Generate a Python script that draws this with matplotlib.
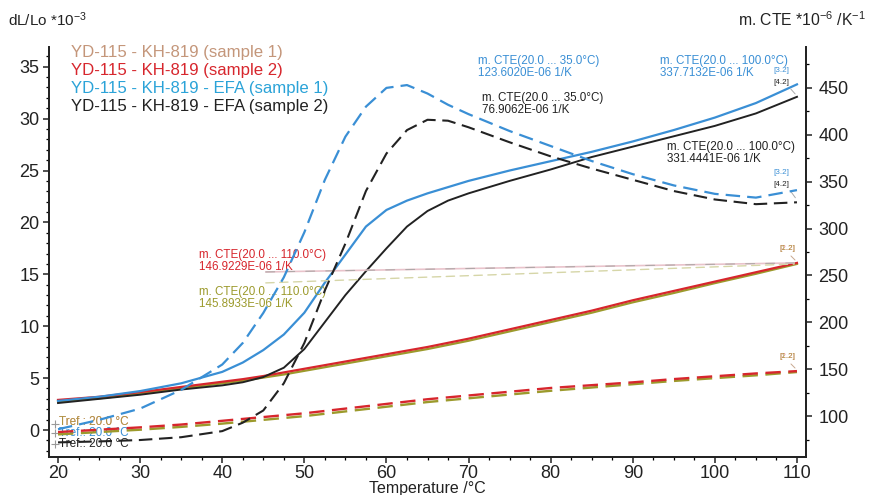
import matplotlib
matplotlib.use("Agg")
import matplotlib.pyplot as plt
from matplotlib.ticker import MultipleLocator

plt.rcParams['font.family'] = ['Liberation Sans', 'DejaVu Sans']
plt.rcParams['mathtext.default'] = 'regular'

# ---- data ----
temp = [20, 25, 30, 35, 40, 42.5, 45, 47.5, 50, 52.5, 55, 57.5, 60, 62.5, 65,
        67.5, 70, 75, 80, 85, 90, 95, 100, 105, 110]

# dL/Lo *1e-3 (left axis, solid)
dl_s1 = [2.75, 3.05, 3.5, 4.0, 4.5, 4.75, 5.05, 5.35, 5.7, 6.05, 6.4, 6.75, 7.1, 7.45, 7.8,
         8.2, 8.6, 9.5, 10.4, 11.3, 12.3, 13.2, 14.15, 15.05, 16.0]
dl_s2 = [2.9, 3.2, 3.65, 4.15, 4.65, 4.9, 5.2, 5.55, 5.9, 6.25, 6.6, 6.95, 7.3, 7.65, 8.0,
         8.4, 8.8, 9.7, 10.6, 11.5, 12.5, 13.4, 14.3, 15.2, 16.1]
dl_efa1 = [2.8, 3.2, 3.75, 4.5, 5.6, 6.5, 7.7, 9.2, 11.3, 14.2, 16.9, 19.6, 21.2, 22.1, 22.8,
           23.4, 24.0, 25.0, 25.9, 26.8, 27.8, 28.9, 30.1, 31.5, 33.3]
dl_efa2 = [2.6, 3.0, 3.4, 3.9, 4.3, 4.6, 5.1, 6.0, 7.8, 10.4, 13.0, 15.3, 17.5, 19.6, 21.1,
           22.1, 22.8, 24.0, 25.1, 26.3, 27.3, 28.3, 29.3, 30.5, 32.1]

# m. CTE *1e-6 /K (right axis, dashed)
cte_s1 = [80.5, 83, 85.5, 88.5, 92, 94, 96, 98, 100, 102.5, 105, 107.5, 110, 112.5, 115,
          117, 119, 123, 127, 130.5, 134, 137.5, 140.5, 143.5, 147]
cte_s2 = [83, 85.5, 88, 91, 95, 97, 99, 101, 103, 105.5, 108, 110.5, 113, 115.5, 118,
          120, 122, 126, 130, 133, 136, 139.5, 142.5, 145.5, 148]
cte_efa1 = [86, 96, 108, 128, 155, 178, 210, 248, 296, 352, 398, 430, 450, 453, 444,
            432, 422, 404, 388, 372, 358, 346, 337, 333, 341]
cte_efa2 = [72, 73, 74.5, 77.5, 84, 93, 106, 135, 178, 234, 284, 340, 380, 405, 416,
            415, 408, 392, 377, 364, 352, 340, 331, 326, 328]

names = ["YD-115 - KH-819 (sample 1)", "YD-115 - KH-819 (sample 2)",
         "YD-115 - KH-819 - EFA (sample 1)", "YD-115 - KH-819 - EFA (sample 2)"]
# (range line, value line) of the mean CTE notes
notes = {
    "s1": ("m. CTE(20.0 ... 110.0°C)", "145.8933E-06 1/K"),
    "s2": ("m. CTE(20.0 ... 110.0°C)", "146.9229E-06 1/K"),
    "efa1_35": ("m. CTE(20.0 ... 35.0°C)", "123.6020E-06 1/K"),
    "efa2_35": ("m. CTE(20.0 ... 35.0°C)", "76.9062E-06 1/K"),
    "efa1_100": ("m. CTE(20.0 ... 100.0°C)", "337.7132E-06 1/K"),
    "efa2_100": ("m. CTE(20.0 ... 100.0°C)", "331.4441E-06 1/K"),
}

olive = "#9c9a2c"
red = "#d7262d"
blue = "#3a8fd5"
black = "#222222"
tan = "#c4967a"

fig = plt.figure(figsize=(8.7, 4.95), dpi=100)
ax = fig.add_axes([49 / 870, 1 - 457 / 495, 757 / 870, 410 / 495])
ax2 = ax.twinx()

dash = (6.5, 3.2)
ax.plot(temp, dl_s1, color=olive, lw=1.6)
ax.plot(temp, dl_s2, color=red, lw=1.6)
ax.plot(temp, dl_efa1, color=blue, lw=1.6)
ax.plot(temp, dl_efa2, color=black, lw=1.4)
ax2.plot(temp, cte_s1, color=olive, lw=1.7, dashes=dash)
ax2.plot(temp, cte_s2, color=red, lw=1.7, dashes=dash)
ax2.plot(temp, cte_efa1, color=blue, lw=1.6, dashes=dash)
ax2.plot(temp, cte_efa2, color=black, lw=1.5, dashes=dash)

ax.set_xlim(18.9, 111.1)
ax.set_ylim(-2.6, 36.9)
ax2.set_ylim(56.4, 493.6)

ax.set_xticks(range(20, 111, 10))
ax.xaxis.set_minor_locator(MultipleLocator(2.5))
ax.set_yticks(range(0, 36, 5))
ax.yaxis.set_minor_locator(MultipleLocator(1))
ax2.set_yticks(range(100, 451, 50))
ax2.yaxis.set_minor_locator(MultipleLocator(25))

for a in (ax, ax2):
    a.spines['top'].set_visible(False)
    for s in a.spines.values():
        s.set_linewidth(1.3)
        s.set_color("#222222")
    a.tick_params(which='major', length=4, width=1.1, labelsize=13, colors="#222222")
    a.tick_params(which='minor', length=2.5, width=0.9)
ax.tick_params(axis='y', pad=3)
ax.tick_params(axis='x', pad=2)
ax2.tick_params(axis='y', pad=5)

fig.text(8 / 870, 1 - 20 / 495, "dL/Lo *10$^{-3}$", fontsize=11, va='center', color="#222222")
fig.text(866 / 870, 1 - 20 / 495, "m. CTE *10$^{-6}$ /K$^{-1}$", fontsize=11.3, va='center',
         ha='right', color="#222222")
fig.text(427 / 870, 1 - 489 / 495, "Temperature /°C", fontsize=11.5, ha='center', va='center',
         color="#222222")


def axfrac(px, py):
    return ((px - 49) / 757, (457 - py) / 410)


# legend as coloured text
for name, col, py in zip(names, [tan, red, "#2ba3d8", black], [52, 70, 89, 107]):
    ax.text(*axfrac(71, py), name, transform=ax.transAxes, color=col, fontsize=12.1,
            va='center', ha='left')

# mean CTE notes, two lines each
note_kw = dict(transform=ax.transAxes, fontsize=8.4, va='center', ha='left')
for key, col, (px, py) in [("s2", red, (199, 255)), ("s1", olive, (199, 292)),
                           ("efa1_35", blue, (478, 61)), ("efa2_35", black, (482, 98)),
                           ("efa1_100", blue, (660, 61)), ("efa2_100", black, (667, 147))]:
    ax.text(*axfrac(px, py), notes[key][0], color=col, **note_kw)
    ax.text(*axfrac(px, py + 12), notes[key][1], color=col, **note_kw)

# leader lines from the 110 °C notes to the curve ends
ax.annotate("", xy=(temp[-1], dl_s2[-1]), xytext=axfrac(263, 272), textcoords='axes fraction',
            arrowprops=dict(arrowstyle='-', color="#e9c3cb", lw=1.2))
ax.annotate("", xy=(temp[-1], dl_s2[-1]), xytext=axfrac(263, 272), textcoords='axes fraction',
            arrowprops=dict(arrowstyle='-', color="#b0a8a8", lw=0.8, linestyle=(0, (8, 10))))
ax.annotate("", xy=(temp[-1], dl_s1[-1]), xytext=axfrac(263, 283), textcoords='axes fraction',
            arrowprops=dict(arrowstyle='-', color="#d6d6a8", lw=1.0, linestyle=(0, (6, 4))))

# segment labels near the right ends
br_kw = dict(transform=ax.transAxes, fontsize=5.8, ha='center', va='center')
ax.text(*axfrac(781, 71), "[3.2]", color=blue, **br_kw)
ax.text(*axfrac(781, 82), "[4.2]", color=black, **br_kw)
ax.text(*axfrac(781, 173), "[3.2]", color=blue, **br_kw)
ax.text(*axfrac(781, 184), "[4.2]", color=black, **br_kw)
ax.text(*axfrac(787, 249), "[2.2]", color=red, alpha=0.6, **br_kw)
ax.text(*axfrac(787, 249), "[1.2]", color=olive, alpha=0.8, **br_kw)
ax.text(*axfrac(787, 357), "[2.2]", color=red, alpha=0.6, **br_kw)
ax.text(*axfrac(787, 357), "[1.2]", color=olive, alpha=0.8, **br_kw)
for (x0, y0), (x1, y1), col in [((789, 87), (797, 96), "#aaaaaa"),
                                ((789, 189), (797, 200), "#aaaaaa"),
                                ((789, 254), (797, 262), "#c8a890"),
                                ((789, 362), (797, 370), "#c8a890")]:
    ax.annotate("", xy=axfrac(x1, y1), xytext=axfrac(x0, y0), xycoords='axes fraction',
                textcoords='axes fraction', arrowprops=dict(arrowstyle='-', color=col, lw=0.7))

# reference temperature labels
tref_kw = dict(transform=ax.transAxes, fontsize=8.5, ha='left', va='center')
ax.text(*axfrac(59, 422), "Tref.: 20.0 °C", color=red, alpha=0.55, **tref_kw)
ax.text(*axfrac(59, 422), "Tref.: 20.0 °C", color=olive, alpha=0.75, **tref_kw)
ax.text(*axfrac(59, 433), "Tref.: 20.0 °C", color=blue, **tref_kw)
ax.text(*axfrac(59, 444), "Tref.: 20.0 °C", color=black, **tref_kw)
for py in (424, 433, 444):
    ax.plot(*axfrac(55, py), marker='+', ms=6, mew=0.8, color="#999999",
            transform=ax.transAxes, clip_on=False)

fig.savefig("out.png", dpi=100)
